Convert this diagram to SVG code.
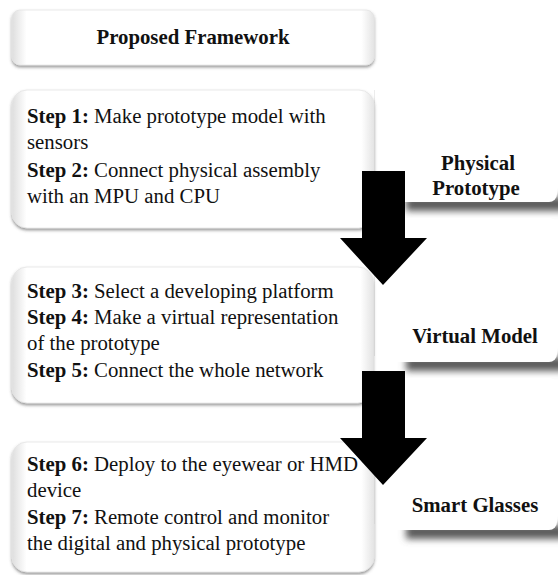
<svg xmlns="http://www.w3.org/2000/svg" width="558" height="575" viewBox="0 0 558 575">
  <defs>
    <linearGradient id="edgeH" x1="0" y1="0" x2="1" y2="0">
      <stop offset="0" stop-color="#dedede"/>
      <stop offset="0.04" stop-color="#ffffff"/>
      <stop offset="0.965" stop-color="#ffffff"/>
      <stop offset="1" stop-color="#e4e4e4"/>
    </linearGradient>
    <filter id="boxShadow" x="-5%" y="-10%" width="110%" height="125%">
      <feDropShadow dx="0" dy="2" stdDeviation="1.4" flood-color="#444" flood-opacity="0.55"/>
    </filter>
    <filter id="blur" x="-20%" y="-100%" width="140%" height="300%">
      <feGaussianBlur stdDeviation="3.5"/>
    </filter>
  </defs>
  <style>
    .box { fill: url(#edgeH); stroke: #e4e4e4; stroke-width: 0.8; filter: url(#boxShadow); }
    .label { fill: #ffffff; }
    .edge { stroke: #ececec; stroke-width: 1; }
    .shadow { fill: #5a5a5a; filter: url(#blur); }
    .txt { font-size: 20.8px; fill: #111; }
    .b { font-weight: bold; }
    .lbl { font-size: 20.8px; font-weight: bold; fill: #111; text-anchor: middle; }
    .arrow { fill: #000; }
  </style>

  <rect width="558" height="575" fill="#ffffff"/>

  <g font-family="'Liberation Serif', 'Times New Roman', 'DejaVu Serif', serif">
  <!-- label boxes (behind) -->
  <g id="label-physical">
    <rect class="shadow" x="406" y="197" width="160" height="14"/>
    <rect class="label" x="374" y="90" width="183" height="112" rx="8"/>
    <line class="edge" x1="374.5" y1="90" x2="374.5" y2="196"/>
    <text class="lbl" x="478" y="170">Physical</text>
    <text class="lbl" x="476" y="195">Prototype</text>
  </g>
  <g id="label-virtual">
    <rect class="shadow" x="406" y="357" width="160" height="14"/>
    <rect class="label" x="374" y="218" width="183" height="144" rx="8"/>
    <line class="edge" x1="374.5" y1="218" x2="374.5" y2="356"/>
    <text class="lbl" x="475" y="343">Virtual Model</text>
  </g>
  <g id="label-smart">
    <rect class="shadow" x="406" y="525" width="160" height="14"/>
    <rect class="label" x="374" y="378" width="183" height="152" rx="8"/>
    <line class="edge" x1="374.5" y1="378" x2="374.5" y2="524"/>
    <text class="lbl" x="475" y="512">Smart Glasses</text>
  </g>

  <g id="title">
    <rect class="box" x="12" y="10" width="362" height="55" rx="8"/>
    <text class="txt b" x="193" y="44" text-anchor="middle" font-size="21px">Proposed Framework</text>
  </g>

  <g id="step1">
    <rect class="box" x="12" y="90" width="362" height="138" rx="15"/>
    <text class="txt" x="27" y="123"><tspan class="b">Step 1:</tspan> Make prototype model with</text>
    <text class="txt" x="27" y="149">sensors</text>
    <text class="txt" x="27" y="177"><tspan class="b">Step 2:</tspan> Connect physical assembly</text>
    <text class="txt" x="27" y="203">with an MPU and CPU</text>
  </g>

  <g id="step2">
    <rect class="box" x="12" y="267" width="361" height="136" rx="15"/>
    <text class="txt" x="27" y="298"><tspan class="b">Step 3:</tspan> Select a developing platform</text>
    <text class="txt" x="27" y="324"><tspan class="b">Step 4:</tspan> Make a virtual representation</text>
    <text class="txt" x="27" y="350">of the prototype</text>
    <text class="txt" x="27" y="377"><tspan class="b">Step 5:</tspan> Connect the whole network</text>
  </g>

  <g id="step3">
    <rect class="box" x="12" y="442" width="362" height="130" rx="15"/>
    <text class="txt" x="27" y="471"><tspan class="b">Step 6:</tspan> Deploy to the eyewear or HMD</text>
    <text class="txt" x="27" y="497">device</text>
    <text class="txt" x="27" y="524"><tspan class="b">Step 7:</tspan> Remote control and monitor</text>
    <text class="txt" x="27" y="550">the digital and physical prototype</text>
  </g>
  </g>

  <g id="connectors">
    <polygon class="arrow" points="362,171 405,171 405,238 427,238 383,285 340,238 362,238"/>
    <polygon class="arrow" points="362,371 405,371 405,438 427,438 383,485 340,438 362,438"/>
  </g>
</svg>
